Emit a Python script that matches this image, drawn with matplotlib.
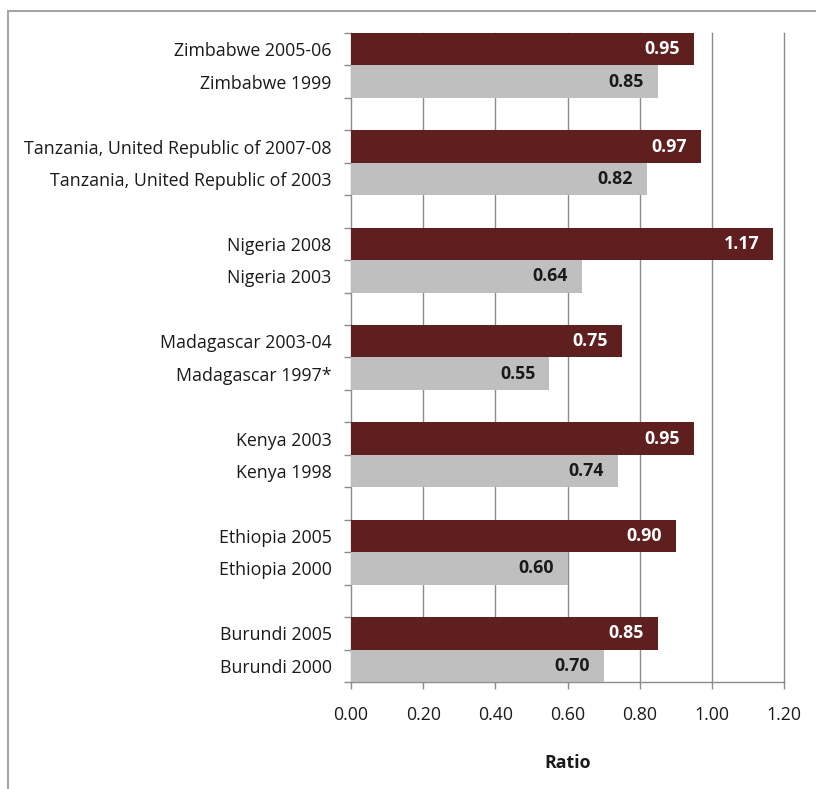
import matplotlib
matplotlib.use("Agg")
import matplotlib.pyplot as plt
from matplotlib.lines import Line2D
import numpy as np

countries = ["Zimbabwe", "Tanzania, United Republic of", "Nigeria", "Madagascar", "Kenya", "Ethiopia", "Burundi"]
recent_years = ["2005-06", "2007-08", "2008", "2003-04", "2003", "2005", "2005"]
earlier_years = ["1999", "2003", "2003", "1997*", "1998", "2000", "2000"]
recent_values = [0.95, 0.97, 1.17, 0.75, 0.95, 0.90, 0.85]
earlier_values = [0.85, 0.82, 0.64, 0.55, 0.74, 0.60, 0.70]
x_ticks = [0.0, 0.2, 0.4, 0.6, 0.8, 1.0, 1.2]

plt.rcParams['font.family'] = ['Open Sans', 'DejaVu Sans']

fig = plt.figure(figsize=(8.16, 7.89), dpi=100)
ax = fig.add_axes([351/816, 1-682/789, (784-351)/816, (682-33)/789])

maroon = "#5F1F1F"
grey = "#BFBFBF"
axis_grey = "#8C8C8C"
fs = 12.8

labels, positions, vals, colors, txtcol = [], [], [], [], []
pos = 0
for i, c in enumerate(countries):
    labels.append(f"{c} {recent_years[i]}")
    positions.append(pos); vals.append(recent_values[i]); colors.append(maroon); txtcol.append("white")
    labels.append(f"{c} {earlier_years[i]}")
    positions.append(pos + 1); vals.append(earlier_values[i]); colors.append(grey); txtcol.append("#1a1a1a")
    pos += 3
n_slots = pos - 1

ax.barh(positions, vals, height=1.0, color=colors, zorder=3)
for p, v, tc in zip(positions, vals, txtcol):
    ax.annotate(f"{v:.2f}", xy=(v, p), xytext=(-10, 0), textcoords="offset points",
                ha="right", va="center", fontsize=fs, fontweight="bold", color=tc, zorder=4)

ax.set_ylim(n_slots - 0.5, -0.5)
ax.set_xlim(0, 1.2)
ax.set_xticks(x_ticks)
ax.set_xticklabels([f"{t:.2f}" for t in x_ticks], fontsize=fs, color="#1a1a1a")
ax.set_yticks(positions)
ax.set_yticklabels(labels, fontsize=fs, color="#1a1a1a")
ax.tick_params(axis="y", which="major", length=0, pad=14)
ax.set_yticks(np.arange(-0.5, n_slots, 1.0), minor=True)
ax.tick_params(axis="y", which="minor", length=5, color=axis_grey, width=1)
ax.tick_params(axis="x", length=5, color=axis_grey, width=1, pad=12)

for t in x_ticks[1:]:
    ax.axvline(t, color=axis_grey, lw=1, zorder=1, clip_on=False)

for s in ["top", "right"]:
    ax.spines[s].set_visible(False)
for s in ["left", "bottom"]:
    ax.spines[s].set_color(axis_grey)
    ax.spines[s].set_linewidth(1)

ax.set_xlabel("Ratio", fontsize=fs, fontweight="bold", labelpad=22, color="#1a1a1a")

# outer chart border
fig.add_artist(Line2D([8/816, 8/816], [0, 1-11/789], transform=fig.transFigure, color="#A6A6A6", lw=1.5))
fig.add_artist(Line2D([8/816, 1], [1-11/789, 1-11/789], transform=fig.transFigure, color="#A6A6A6", lw=1.5))

fig.savefig("out.png", dpi=100, facecolor="white")
